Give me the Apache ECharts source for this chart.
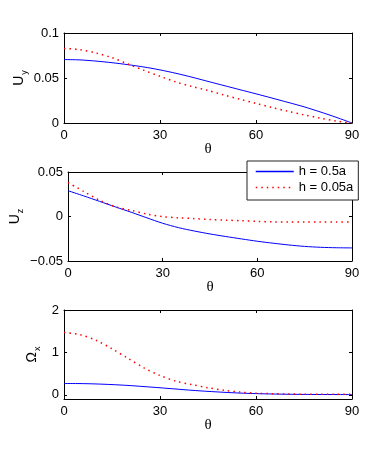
<!DOCTYPE html>
<html>
<head>
<meta charset="utf-8">
<script src="https://cdn.jsdelivr.net/npm/echarts@6/dist/echarts.min.js"></script>
<style>
  html, body { margin: 0; padding: 0; background: #fff; }
  #chart { width: 389px; height: 461px; }
</style>
</head>
<body>
<div id="chart"></div>
<script>
// theta in degrees, every 5 deg
const theta = [0, 5, 10, 15, 20, 25, 30, 35, 40, 45, 50, 55, 60, 65, 70, 75, 80, 85, 90];

// U_y
const uyThick = [0.0705, 0.0701, 0.0688, 0.0670, 0.0648, 0.0622, 0.0590, 0.0552, 0.0509, 0.0462,
  0.0416, 0.0370, 0.0324, 0.0277, 0.0229, 0.0180, 0.0124, 0.0064, 0];
const uyThin = [0.0828, 0.0815, 0.0778, 0.0726, 0.0655, 0.0585, 0.0519, 0.0456, 0.0405, 0.0362,
  0.0311, 0.0264, 0.0218, 0.0172, 0.0130, 0.0091, 0.0055, 0.0022, 0];

// U_z
const uzThick = [0.0290, 0.0231, 0.0170, 0.0108, 0.0048, -0.0015, -0.0076, -0.0125, -0.0163, -0.0196,
  -0.0225, -0.0252, -0.0278, -0.0300, -0.0320, -0.0336, -0.0346, -0.0351, -0.0353];
const uzThin = [0.0382, 0.0281, 0.0183, 0.0110, 0.0069, 0.0028, -0.0002, -0.0014, -0.0024, -0.0034,
  -0.0041, -0.0048, -0.0055, -0.0060, -0.0062, -0.0063, -0.0063, -0.0063, -0.0063];

// Omega_x
const omThick = [0.266, 0.264, 0.255, 0.240, 0.220, 0.193, 0.165, 0.135, 0.105, 0.080,
  0.058, 0.040, 0.027, 0.018, 0.012, 0.008, 0.006, 0.005, 0.004];
const omThin = [1.47, 1.42, 1.285, 1.085, 0.86, 0.635, 0.455, 0.32, 0.24, 0.165,
  0.105, 0.065, 0.035, 0.025, 0.018, 0.014, 0.011, 0.010, 0.010];

const legendNames = ['h = 0.5a', 'h = 0.05a'];
const xTicks = [0, 30, 60, 90];

const font = 'Liberation Sans';
const pairs = (ys) => theta.map((t, i) => [t, ys[i]]);

const grids = [
  { left: 64, width: 288, top: 33, height: 90 },
  { left: 64, width: 288, top: 172, height: 89 },
  { left: 64, width: 288, top: 310, height: 89 },
];

const yInfo = [
  { min: 0, max: 0.1, ticks: [0, 0.05, 0.1], name: '{u|U}{s|y}', gap: 38 },
  { min: -0.05, max: 0.05, ticks: [-0.05, 0, 0.05], name: '{u|U}{s|z}', gap: 46 },
  { min: -0.1, max: 2, ticks: [0, 1, 2], name: '{u|Ω}{s|x}', gap: 25 },
];

const line = { color: '#000', width: 1 };
const tick = { show: true, inside: true, length: 3, lineStyle: { color: '#000' } };
const fmt = (v) => String(v).replace('-', '\u2212');

const xAxis = [];
const yAxis = [];
grids.forEach((g, i) => {
  xAxis.push({
    type: 'value', gridIndex: i, position: 'bottom', min: 0, max: 90,
    axisLine: { onZero: false, lineStyle: line }, splitLine: { show: false },
    axisTick: { ...tick, customValues: xTicks },
    axisLabel: { customValues: xTicks, color: '#000', fontFamily: font, fontSize: 13, lineHeight: 12, margin: 6 },
    name: 'θ', nameLocation: 'middle', nameGap: 19, nameMoveOverlap: false,
    nameTextStyle: { fontFamily: 'Liberation Serif', fontSize: 15, color: '#000' },
  });
  xAxis.push({
    type: 'value', gridIndex: i, position: 'top', min: 0, max: 90,
    axisLine: { onZero: false, lineStyle: line }, splitLine: { show: false },
    axisTick: { ...tick, customValues: xTicks },
    axisLabel: { show: false },
  });
  const y = yInfo[i];
  yAxis.push({
    type: 'value', gridIndex: i, position: 'left', min: y.min, max: y.max,
    axisLine: { show: true, onZero: false, lineStyle: line }, splitLine: { show: false },
    axisTick: { ...tick, customValues: y.ticks },
    axisLabel: { customValues: y.ticks, formatter: fmt, color: '#000', fontFamily: font, fontSize: 13, lineHeight: 10, margin: 5 },
    name: y.name, nameLocation: 'middle', nameGap: y.gap, nameRotate: 90, nameMoveOverlap: false,
    nameTextStyle: {
      color: '#000',
      rich: {
        u: { fontFamily: font, fontSize: 14, color: '#000', verticalAlign: 'bottom', lineHeight: 16 },
        s: { fontFamily: font, fontSize: 9, color: '#000', verticalAlign: 'bottom', lineHeight: 16, padding: [0, 0, -3, 1] },
      },
    },
  });
  yAxis.push({
    type: 'value', gridIndex: i, position: 'right', min: y.min, max: y.max,
    axisLine: { show: true, onZero: false, lineStyle: line }, splitLine: { show: false },
    axisTick: { ...tick, customValues: y.ticks },
    axisLabel: { show: false },
  });
});

const seriesPairs = [[uyThick, uyThin], [uzThick, uzThin], [omThick, omThin]];
const series = [];
seriesPairs.forEach(([a, b], i) => {
  series.push({
    name: legendNames[0], type: 'line', xAxisIndex: 2 * i, yAxisIndex: 2 * i,
    data: pairs(a), symbol: 'none', smooth: 0.3, silent: true,
    lineStyle: { color: '#0000ff', width: 1 }, itemStyle: { color: '#0000ff' },
  });
  series.push({
    name: legendNames[1], type: 'line', xAxisIndex: 2 * i, yAxisIndex: 2 * i,
    data: pairs(b), symbol: 'none', smooth: 0.3, silent: true,
    lineStyle: { color: '#ff0000', width: 1.5, type: [1.5, 4] }, itemStyle: { color: '#ff0000' },
  });
});

const chart = echarts.init(document.getElementById('chart'), null, { renderer: 'canvas' });
chart.setOption({
  animation: false,
  backgroundColor: '#fff',
  grid: grids,
  xAxis,
  yAxis,
  legend: {
    data: legendNames,
    orient: 'vertical',
    left: 247, top: 161,
    padding: [4, 5, 6, 8],
    itemGap: 3,
    itemWidth: 38, itemHeight: 14,
    itemStyle: { opacity: 0 },
    lineStyle: { width: 1.5 },
    backgroundColor: '#fff',
    borderColor: '#222', borderWidth: 1,
    textStyle: { fontFamily: font, fontSize: 13, color: '#000' },
    selectedMode: false,
  },
  series,
});
</script>
</body>
</html>
